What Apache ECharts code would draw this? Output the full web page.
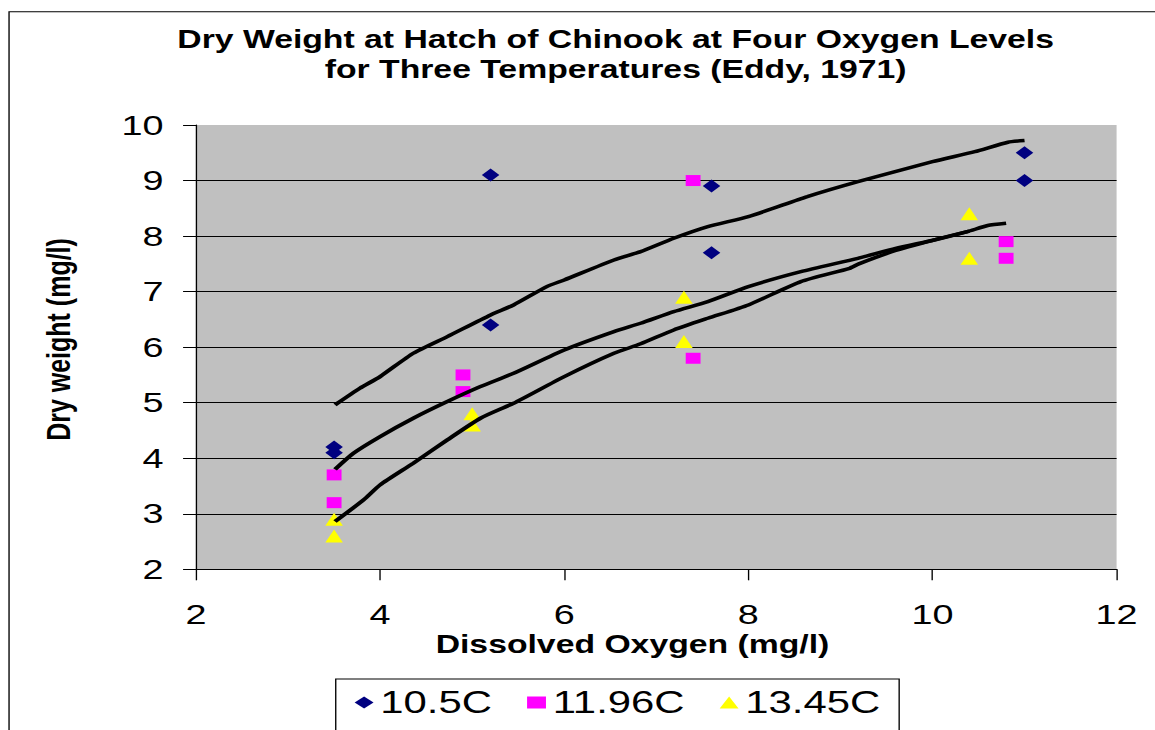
<!DOCTYPE html>
<html>
<head>
<meta charset="utf-8">
<script src="https://cdn.jsdelivr.net/npm/echarts@6/dist/echarts.min.js"></script>
<style>
  html, body { margin: 0; padding: 0; background: #fff; overflow: hidden; }
  /* the reference picture is stretched sideways, so the chart is drawn narrow and widened */
  #chart { width: 855.5px; height: 730px; transform: scaleX(1.35); transform-origin: 0 0; }
</style>
</head>
<body>
<div id="chart"></div>
<script>
// measured points (dissolved oxygen, dry weight)
const oxy105 = [3.5, 3.5, 5.2, 5.2, 7.6, 7.6, 11, 11];
const dw105 = [4.2, 4.1, 9.1, 6.4, 8.9, 7.7, 9.5, 9.0];
const oxy1196 = [3.5, 3.5, 4.9, 4.9, 7.4, 7.4, 10.8, 10.8];
const dw1196 = [3.7, 3.2, 5.5, 5.2, 9.0, 5.8, 7.9, 7.6];
const oxy1345 = [3.5, 3.5, 5.0, 5.0, 7.3, 7.3, 10.4, 10.4];
const dw1345 = [2.9, 2.6, 4.8, 4.6, 6.9, 6.1, 8.4, 7.6];

// hand drawn trend curves
const curve105 = [[3.51, 4.96], [3.78, 5.26], [4.0, 5.47], [4.36, 5.89], [4.73, 6.19], [5.2, 6.58],
  [5.45, 6.76], [5.81, 7.09], [6.0, 7.21], [6.54, 7.57], [6.83, 7.72], [7.19, 7.96], [7.56, 8.17],
  [8.0, 8.35], [8.64, 8.71], [9.19, 8.98], [10.0, 9.34], [10.46, 9.52], [10.82, 9.69], [11.0, 9.72]];
const curve1196 = [[3.51, 3.8], [3.71, 4.09], [4.0, 4.39], [4.36, 4.72], [4.73, 5.02], [5.09, 5.29],
  [5.45, 5.53], [6.0, 5.95], [6.54, 6.28], [6.83, 6.43], [7.19, 6.64], [7.56, 6.82], [8.0, 7.09],
  [8.57, 7.36], [9.19, 7.6], [9.6, 7.78], [10.02, 7.93], [10.38, 8.08], [10.6, 8.19], [10.8, 8.23]];
const curve1345 = [[3.51, 2.86], [3.82, 3.25], [4.0, 3.52], [4.36, 3.91], [4.73, 4.33], [5.09, 4.72],
  [5.45, 4.99], [6.0, 5.47], [6.54, 5.89], [6.83, 6.06], [7.19, 6.31], [7.56, 6.52], [8.0, 6.76],
  [8.57, 7.18], [9.1, 7.42], [9.2, 7.5], [9.6, 7.74], [10.02, 7.93], [10.4, 8.09]];

const seriesNames = ['10.5C', '11.96C', '13.45C'];

const font = 'Liberation Sans, Arial, sans-serif';
const zip = (xs, ys) => xs.map((x, i) => [x, ys[i]]);

const trend = data => ({
  type: 'line',
  data: data,
  showSymbol: false,
  smooth: 0.2,
  z: 4,
  silent: true,
  lineStyle: { color: '#000', width: 3.5 }
});

const chart = echarts.init(document.getElementById('chart'), null, { renderer: 'svg' });
chart.setOption({
  animation: false,
  backgroundColor: '#fff',
  textStyle: { fontFamily: font },
  title: {
    text: 'Dry Weight at Hatch of Chinook at Four Oxygen Levels\nfor Three Temperatures (Eddy, 1971)',
    left: 451,
    textAlign: 'center',
    top: 19,
    textStyle: { fontFamily: font, fontSize: 25, fontWeight: 'bold', color: '#000', lineHeight: 30 }
  },
  legend: {
    data: seriesNames,
    left: 248.7,
    top: 679,
    orient: 'horizontal',
    padding: [8, 14, 16, 14],
    itemWidth: 14,
    itemHeight: 12,
    itemGap: 26,
    borderColor: '#000',
    borderWidth: 1,
    backgroundColor: '#fff',
    textStyle: { fontFamily: font, fontSize: 31, color: '#000' }
  },
  grid: {
    left: 145.2,
    right: 28.9,
    top: 125,
    bottom: 160.7,
    show: true,
    backgroundColor: '#c0c0c0',
    borderWidth: 0
  },
  xAxis: {
    type: 'value',
    min: 2,
    max: 12,
    interval: 2,
    axisLine: { show: true, onZero: false, lineStyle: { color: '#000', width: 1 } },
    axisTick: { show: true, length: 11, lineStyle: { color: '#000' } },
    axisLabel: { fontFamily: font, fontSize: 28, color: '#000', margin: 31 },
    splitLine: { show: false }
  },
  yAxis: {
    type: 'value',
    min: 2,
    max: 10,
    interval: 1,
    axisLine: { show: true, lineStyle: { color: '#000', width: 1 } },
    axisTick: { show: true, length: 9.6, lineStyle: { color: '#000' } },
    axisLabel: { fontFamily: font, fontSize: 28, color: '#000', margin: 24 },
    splitLine: { show: true, showMaxLine: false, lineStyle: { color: '#000', width: 1 } }
  },
  graphic: [
    {
      type: 'rect',
      shape: { x: 6.7, y: 11.7, width: 900, height: 800 },
      style: { fill: null, stroke: '#000', lineWidth: 1 },
      silent: true,
      z: -10
    },
    {
      type: 'text',
      x: 468.5,
      y: 644,
      style: {
        text: 'Dissolved Oxygen (mg/l)',
        fontFamily: font, fontSize: 25, fontWeight: 'bold', fill: '#000',
        textAlign: 'center', textVerticalAlign: 'middle'
      }
    },
    {
      type: 'text',
      x: 43,
      y: 339.5,
      rotation: Math.PI / 2,
      style: {
        text: 'Dry weight (mg/l)',
        fontFamily: font, fontSize: 25, fontWeight: 'bold', fill: '#000',
        textAlign: 'center', textVerticalAlign: 'middle'
      }
    }
  ],
  series: [
    {
      name: seriesNames[0],
      type: 'scatter',
      data: zip(oxy105, dw105),
      symbol: 'diamond',
      symbolSize: [13, 13],
      z: 3,
      itemStyle: { color: '#000080', opacity: 1 }
    },
    {
      name: seriesNames[1],
      type: 'scatter',
      data: zip(oxy1196, dw1196),
      symbol: 'rect',
      symbolSize: [11, 11],
      z: 3,
      itemStyle: { color: '#ff00ff', opacity: 1 }
    },
    {
      name: seriesNames[2],
      type: 'scatter',
      data: zip(oxy1345, dw1345),
      symbol: 'triangle',
      symbolSize: [13, 13],
      z: 3,
      itemStyle: { color: '#ffff00', opacity: 1 }
    },
    trend(curve105),
    trend(curve1196),
    trend(curve1345)
  ]
});
</script>
</body>
</html>
